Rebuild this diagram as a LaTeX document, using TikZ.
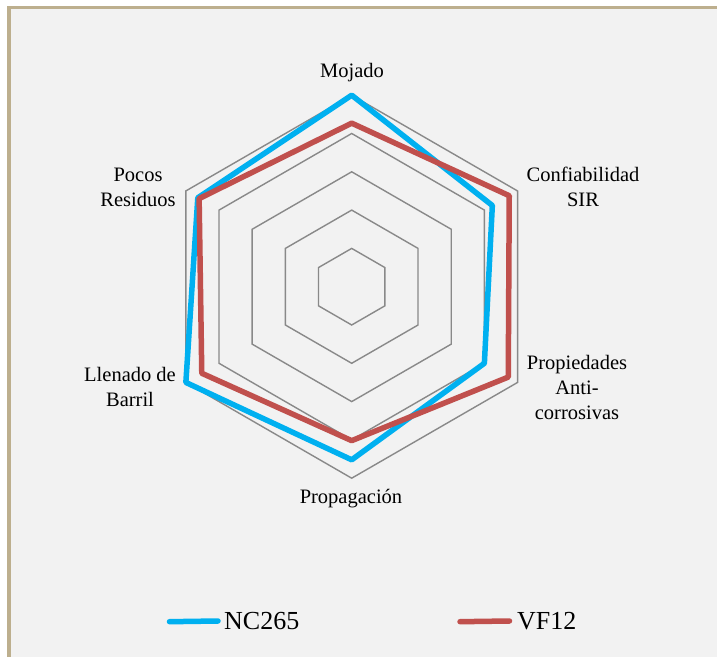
\documentclass[tikz,border=0pt]{standalone}
\usepackage{fontspec}
\setmainfont{Liberation Serif}
\usetikzlibrary{positioning}
\definecolor{fondo}{HTML}{F2F2F2}
\definecolor{marco}{RGB}{189,175,142}
\definecolor{gris}{HTML}{898989}
\definecolor{azulNC}{HTML}{00B0F0}
\definecolor{rojoVF}{HTML}{C0504D}
\newcommand{\anillo}{38.3}

\begin{document}
\begin{tikzpicture}[
  x=1pt, y=1pt,
  rejilla/.style = {draw=gris, line width=1.4pt},
  serie/.style = {line width=5.5pt, line join=round},
  etiqueta/.style = {align=center, font=\fontsize{20.5}{25}\selectfont, inner sep=0pt},
  leyenda/.style = {font=\fontsize{26}{30}\selectfont, inner sep=0pt, anchor=west}
  ]
	\useasboundingbox (0,0) rectangle (717,656);
	\clip (0,0) rectangle (717,656);
	\fill[white] (0,0) rectangle (717,656);
	\filldraw[fill=fondo, draw=marco, line width=3.5pt] (9,648.5) rectangle (760,-40);

	\begin{scope}[shift={(351.7,369.3)}]
	% anillos
	\foreach \k in {1,...,5}
		\draw[rejilla] (90:\k*\anillo) -- (30:\k*\anillo) -- (-30:\k*\anillo) -- (-90:\k*\anillo) -- (210:\k*\anillo) -- (150:\k*\anillo) -- cycle;

	% NC265
	\draw[serie, azulNC] (90:5*\anillo) -- (30:4.24*\anillo) -- (-30:4.0*\anillo) -- (-90:4.52*\anillo) -- (210:5*\anillo) -- (150:4.64*\anillo) -- cycle;
	% VF12
	\draw[serie, rojoVF] (90:4.27*\anillo) -- (30:4.75*\anillo) -- (-30:4.72*\anillo) -- (-90:4.02*\anillo) -- (210:4.52*\anillo) -- (150:4.6*\anillo) -- cycle;
	\end{scope}

	\node[etiqueta] (mojado) at (352,583) {Mojado};
	\node[etiqueta] (confiab) at (583,469) {Confiabilidad\\SIR};
	\node[etiqueta] (propied) at (577,269) {Propiedades\\Anti-\\corrosivas};
	\node[etiqueta] (propag) at (351,157) {Propagación};
	\node[etiqueta] (llenado) at (130,269.5) {Llenado de\\Barril};
	\node[etiqueta] (pocos) at (138,468.5) {Pocos\\Residuos};

	% leyenda
	\node[leyenda] (ncA) at (224,35) {NC265};
	\node[leyenda] (vfB) at (517,35) {VF12};
	\coordinate (ncA0) at (169.5,34.3);
	\coordinate (vfB0) at (460,34.3);
	\draw[serie, azulNC, line cap=round] (ncA0) -- ([xshift=-6pt]ncA.west);
	\draw[serie, rojoVF, line cap=round] (vfB0) -- ([xshift=-7.5pt]vfB.west);

\end{tikzpicture}
\end{document}
